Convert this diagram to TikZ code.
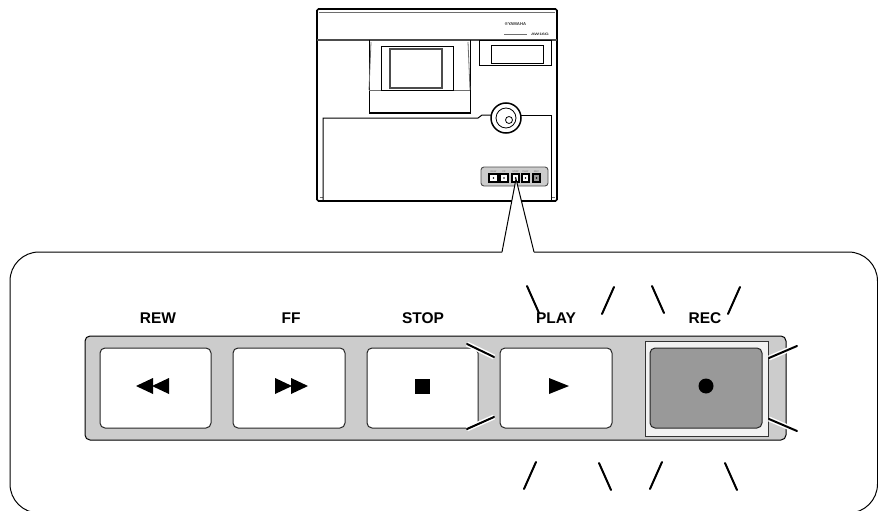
\documentclass[tikz,border=0pt]{standalone}
\usepackage{fontspec}
\setmainfont{Liberation Sans}
\definecolor{panelgray}{RGB}{204, 204, 204}
\definecolor{recgray}{RGB}{153, 153, 153}
\definecolor{recframe}{RGB}{242, 242, 242}
\definecolor{linegray}{RGB}{110, 110, 110}
\tikzset{
  keybox/.style={draw=black!85, line width=1pt, rounded corners=5pt, minimum height=80pt, inner sep=0pt},
  keylabel/.style={font=\bfseries\fontsize{15.5}{16}\selectfont, inner sep=0pt},
  minilabel/.style={font=\fontsize{2.4}{3}\selectfont, inner sep=0pt, color=black!60},
  flash/.style={line width=2pt, line cap=round},
  halo/.style={line width=5pt, white},
  unitline/.style={line width=1pt},
}
\begin{document}
\begin{tikzpicture}[x=1pt, y=-1pt]
        \useasboundingbox (0,0) rectangle (878,511);
        \begin{scope}
        \clip (0,0) rectangle (878,511);
        % Callout frame
        \draw[line width=1pt, rounded corners=29pt] (502,252) -- (10,252) -- (10,513) -- (877.5,513) -- (877.5,252) -- (534,252);
        \end{scope}
        % Unit outline
        \draw[line width=1.7pt, rounded corners=1.5pt] (317,9) rectangle (557,201);
        \draw[line width=0.8pt, color=linegray] (319,12) -- (555,12);
        \draw[line width=2pt, color=black!70] (317,40) -- (557,40);
        \draw[line width=0.8pt, color=linegray] (319.5,197) -- (323,197);
        \draw[line width=0.8pt, color=linegray] (551,197) -- (555,197);
        \node[font=\fontsize{4.2}{5}\selectfont\bfseries, inner sep=0pt, color=black!80] (maker) at (515.5,24) {®YAMAHA};
        \draw[line width=0.4pt, color=linegray] (504,34.5) -- (527,34.5);
        \node[font=\fontsize{3.4}{4}\selectfont\bfseries, inner sep=0pt, color=black!80] (model) at (540,34) {\scalebox{1.5}[1]{AW16G}};
        % Slot housing
        \draw[unitline] (369,40) -- (369,113) -- (470,113) -- (470,40);
        \draw[line width=1.5pt] (369,113) -- (470,113);
        \draw[line width=0.8pt, color=linegray] (371,42) -- (369,90);
        \draw[line width=0.8pt, color=linegray] (468,42) -- (470,90);
        \draw[line width=0.8pt, color=linegray] (369,90) -- (470,90);
        \draw[line width=0.8pt, fill=white] (381,46) rectangle (453,90);
        \draw[line width=1.6pt, color=black!70] (390,49) rectangle (442,88);
        % Display window
        \draw[line width=0.9pt] (479,40) rectangle (551,65);
        \draw[line width=0.8pt] (491,45) rectangle (543,63);
        % Lower panel and dial
        \draw[unitline] (323,201) -- (323,118) -- (478,118) -- (482,115) -- (491,115);
        \draw[unitline] (521,115) -- (551,115) -- (551,201);
        \draw[line width=1.5pt, fill=white] (506,118) circle (15);
        \draw[line width=0.8pt] (506,118) circle (10);
        \draw[line width=0.8pt, fill=white] (509,120) circle (3.5);
        % Small key strip
        \draw[line width=0.9pt, color=black!70, fill=panelgray, rounded corners=3pt] (481,167) rectangle (548,186);
        \foreach \x/\w/\t in {489/9/REW,500/8/FF,512/7/STOP,522/7/PLAY} {
          \draw[line width=1.1pt, fill=white] (\x,174) rectangle ++(\w,8);
          \fill (\x+0.5*\w,178) circle (0.8);
          \node[minilabel] (mini\t) at (\x+0.5*\w,171.5) {\t};
        }
        \draw[line width=1.1pt, fill=recgray] (533,174) rectangle (540,182);
        \fill (536.5,178) circle (0.8);
        \node[minilabel] (miniREC) at (536.5,171.5) {REC};
        % Callout lines
        \coordinate (apex) at (516,179);
        \coordinate (footleft) at (502,252);
        \coordinate (footright) at (534,252);
        \fill[white] (apex) -- (footleft) -- (footright) -- cycle;
        \draw[line width=1pt] (footleft) -- (apex) -- (footright);
        % Key strip
        \draw[line width=1pt, fill=panelgray, rounded corners=5pt] (85,336) rectangle (786,440);
        \fill[recframe] (645,341) rectangle (768,436);
        \draw[line width=0.9pt, color=black!80] (645,341) rectangle (768,436);
        % Keys
        \node[keybox, fill=white, minimum width=111pt] (rew) at (155.5,388) {};
        \node[keybox, fill=white, minimum width=112pt] (ff) at (289,388) {};
        \node[keybox, fill=white, minimum width=111pt] (stop) at (422.5,388) {};
        \node[keybox, fill=white, minimum width=112pt] (play) at (556,388) {};
        \node[keybox, fill=recgray, minimum width=112pt] (rec) at (706,388) {};
        % Key labels
        \node[keylabel] (rewlabel) at (158,318) {REW};
        \node[keylabel] (fflabel) at (291,318) {FF};
        \node[keylabel] (stoplabel) at (423,318) {STOP};
        \node[keylabel] (playlabel) at (556,318) {PLAY};
        \node[keylabel] (reclabel) at (705,318) {REC};
        % Key symbols
        \fill (136,386) -- (153,378) -- (153,394) -- cycle;
        \fill (152,386) -- (169,378) -- (169,394) -- cycle;
        \fill (292,386) -- (275,378) -- (275,394) -- cycle;
        \fill (308,386) -- (291,378) -- (291,394) -- cycle;
        \fill (415,379) rectangle (430,394);
        \fill (569,386) -- (549,378) -- (549,394) -- cycle;
        \fill (706,386) circle (7.5);
        % Flash marks
        \foreach \xa/\ya/\xb/\yb in {527/286/539/313,614/287/602/314,652/286/664/313,740/287/728/314,536/462/524/489,599/463/611/490,662/462/650/489,725/463/737/490} {
          \draw[flash] (\xa,\ya) -- (\xb,\yb);
        }
        \foreach \xa/\ya/\xb/\yb in {467/344/494/357,467/429/494/417,797/346/769/358,797/431/769/419} {
          \draw[halo] (\xa,\ya) -- (\xb,\yb);
          \draw[flash] (\xa,\ya) -- (\xb,\yb);
        }
      \end{tikzpicture}
\end{document}
